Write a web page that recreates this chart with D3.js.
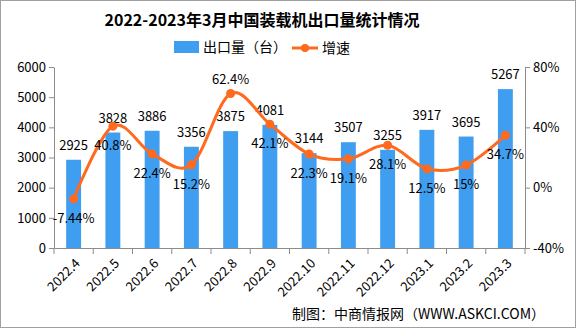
<!DOCTYPE html>
<html><head><meta charset="utf-8">
<script src="https://cdn.jsdelivr.net/npm/d3@7"></script>
<style>body{margin:0;background:#fff}svg{display:block}text{font-family:"Noto Sans CJK SC","Noto Sans",sans-serif}</style>
</head><body>
<script>
const title = "2022-2023年3月中国装载机出口量统计情况";
const categories = ["2022.4","2022.5","2022.6","2022.7","2022.8","2022.9","2022.10","2022.11","2022.12","2023.1","2023.2","2023.3"];
const exportVolume = [2925,3828,3886,3356,3875,4081,3144,3507,3255,3917,3695,5267];
const growthRate = [-7.44,40.8,22.4,15.2,62.4,42.1,22.3,19.1,28.1,12.5,15,34.7];
const growthLabels = ["-7.44%","40.8%","22.4%","15.2%","62.4%","42.1%","22.3%","19.1%","28.1%","12.5%","15%","34.7%"];
const growthLabelPlace = ["below","below","below","below","above","below","below","below","below","below","below","below"];
const leftTicks = [0,1000,2000,3000,4000,5000,6000];
const rightTicks = [-40,0,40,80];
const seriesNames = ["出口量（台）","增速"];
const source = "制图：中商情报网（WWW.ASKCI.COM）";

const W=576,H=328;
const m={l:54,r:51,t:67,b:80};
const svg=d3.select("body").append("svg").attr("width",W).attr("height",H);
svg.append("rect").attr("x",0.5).attr("y",0.5).attr("width",W-1).attr("height",H-1).attr("fill","#fff").attr("stroke","#a0a0a0");

const x=d3.scaleBand().domain(categories).range([m.l,W-m.r]).paddingInner(0.62).paddingOuter(0.31);
const xb=d3.scaleBand().domain(categories).range([m.l,W-m.r]);
const y=d3.scaleLinear().domain([0,6000]).range([H-m.b,m.t]);
const y2=d3.scaleLinear().domain([-40,80]).range([H-m.b,m.t]);
const blue="#409ef0", orange="#ff6a1f", axisCol="#8c8c8c";

svg.append("text").attr("x",262).attr("y",26).attr("text-anchor","middle").attr("font-size",16).attr("font-weight","bold").attr("fill","#000").text(title);

// legend
svg.append("rect").attr("x",174).attr("y",41).attr("width",25).attr("height",12).attr("fill",blue);
svg.append("text").attr("x",203).attr("y",52).attr("font-size",14).text(seriesNames[0]);
svg.append("line").attr("x1",292).attr("x2",318).attr("y1",48).attr("y2",48).attr("stroke",orange).attr("stroke-width",3);
svg.append("circle").attr("cx",305).attr("cy",48).attr("r",4).attr("fill",orange);
svg.append("text").attr("x",322).attr("y",53).attr("font-size",14).text(seriesNames[1]);

// bars
svg.selectAll(".bar").data(exportVolume).join("rect")
  .attr("x",(d,i)=>x(categories[i])).attr("width",x.bandwidth())
  .attr("y",d=>y(d)).attr("height",d=>y(0)-y(d)).attr("fill",blue);

// axes
const gl=svg.append("g").attr("transform",`translate(${m.l},0)`).call(d3.axisLeft(y).tickValues(leftTicks).tickFormat(d3.format("d")).tickSize(5).tickPadding(3).tickSizeOuter(0));
const gr=svg.append("g").attr("transform",`translate(${W-m.r},0)`).call(d3.axisRight(y2).tickValues(rightTicks).tickSize(5).tickPadding(3).tickFormat(d=>d+"%").tickSizeOuter(0));
const gx=svg.append("g").attr("transform",`translate(0,${H-m.b})`).call(d3.axisBottom(xb).tickSize(0).tickFormat(""));
[gl,gr,gx].forEach(g=>{g.selectAll("path,line").attr("stroke",axisCol);g.selectAll("text").attr("font-size",13).attr("fill","#000");});
// x boundary ticks
const bounds=categories.map(c=>xb(c)).concat([W-m.r]);
svg.selectAll(".xt").data(bounds).join("line").attr("x1",d=>d).attr("x2",d=>d).attr("y1",H-m.b).attr("y2",H-m.b+6).attr("stroke",axisCol);
// x labels
svg.selectAll(".xl").data(categories).join("text")
  .attr("transform",d=>`translate(${xb(d)+xb.bandwidth()/2+4},${H-m.b+13}) rotate(-45)`)
  .attr("text-anchor","end").attr("font-size",13).attr("dy","0.35em").text(d=>d);

// bar labels
svg.selectAll(".bl").data(exportVolume).join("text")
  .attr("x",(d,i)=>x(categories[i])+x.bandwidth()/2).attr("y",d=>y(d)-10)
  .attr("text-anchor","middle").attr("font-size",13).text(d=>d);

// line
const cx=i=>xb(categories[i])+xb.bandwidth()/2;
const line=d3.line().x((d,i)=>cx(i)).y(d=>y2(d)).curve(d3.curveCardinal.tension(0));
svg.append("path").datum(growthRate).attr("d",line).attr("fill","none").attr("stroke",orange).attr("stroke-width",3);
svg.selectAll(".pt").data(growthRate).join("circle").attr("cx",(d,i)=>cx(i)).attr("cy",d=>y2(d)).attr("r",4.5).attr("fill",orange);

// growth labels
svg.selectAll(".gl").data(growthRate).join("text")
  .attr("x",(d,i)=>cx(i))
  .attr("y",(d,i)=>growthLabelPlace[i]==="above"?y2(d)-10:y2(d)+24)
  .attr("text-anchor","middle")
  .attr("font-size",13).text((d,i)=>growthLabels[i]);

svg.append("text").attr("x",292).attr("y",319).attr("font-size",14).text(source);
</script>
</body></html>
